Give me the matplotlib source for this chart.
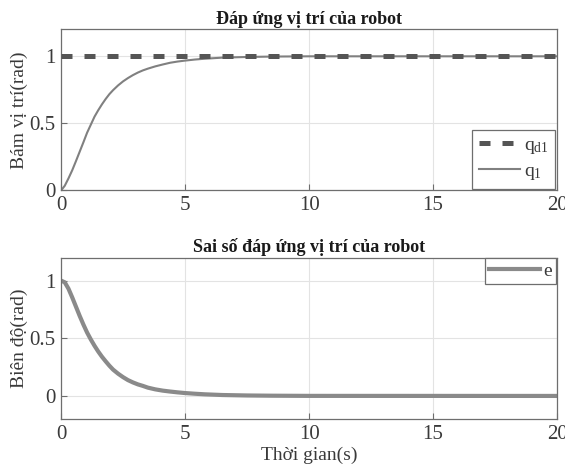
import numpy as np
import matplotlib
matplotlib.use("Agg")
import matplotlib.pyplot as plt

# Thoi gian (s) va gia tri doc tu hinh
t = [0, 0.15, 0.3, 0.45, 0.6, 0.75, 0.9, 1.05, 1.2, 1.35, 1.5, 1.65, 1.8, 1.95, 2.1, 2.3, 2.5,
     2.7, 2.9, 3.1, 3.3, 3.5, 3.8, 4.1, 4.4, 4.7, 5.0, 5.4, 5.8, 6.5, 7.5, 8.5, 10.0, 20.0]
q1 = [0, 0.035, 0.09, 0.15, 0.218, 0.288, 0.358, 0.43, 0.49, 0.55, 0.598, 0.642, 0.682, 0.718,
      0.748, 0.783, 0.813, 0.838, 0.86, 0.879, 0.895, 0.908, 0.925, 0.939, 0.952, 0.961, 0.968,
      0.976, 0.982, 0.99, 0.995, 0.998, 1.0, 1.0]
qd1 = [1.0] * len(t)
e = [1.0, 0.985, 0.93, 0.855, 0.775, 0.695, 0.62, 0.55, 0.49, 0.435, 0.385, 0.34, 0.30, 0.262,
     0.228, 0.193, 0.163, 0.137, 0.117, 0.1, 0.087, 0.072, 0.057, 0.046, 0.038, 0.031, 0.025,
     0.019, 0.014, 0.008, 0.004, 0.002, 0.0005, 0.0]

plt.rcParams["font.family"] = ["Liberation Serif", "DejaVu Serif"]
plt.rcParams["mathtext.fontset"] = "custom"
plt.rcParams["mathtext.rm"] = "Liberation Serif"
plt.rcParams["mathtext.it"] = "Liberation Serif"

fig = plt.figure(figsize=(5.65, 4.70), dpi=100)
ax1 = fig.add_axes([0.108, 0.5947, 0.878, 0.3426])
ax2 = fig.add_axes([0.108, 0.1085, 0.878, 0.3436])

txt = "#3a3a3a"
spine = "#6e6e6e"

# --------------- Dap ung vi tri -----------------
ax1.plot(t, qd1, color="#555555", lw=3.6, linestyle=(0, (2.2, 2.4)), label=r"$\mathrm{q_{d1}}$", zorder=3)
ax1.plot(t, q1, color="#808080", lw=1.5, label=r"$\mathrm{q_1}$", zorder=2)
ax1.set_xlim(0, 20)
ax1.set_ylim(0, 1.2)
ax1.set_yticks([0, 0.5, 1])
ax1.set_yticklabels(["0", "0.5", "1"])
ax1.set_title("Đáp ứng vị trí của robot", fontsize=13, fontweight="bold", color="#1a1a1a", pad=4)
ax1.set_ylabel("Bám vị trí(rad)", fontsize=14, color=txt, labelpad=1)
leg1 = ax1.legend(loc="lower right", fontsize=14, frameon=True, fancybox=False, handlelength=2.1,
                  borderaxespad=0.1, borderpad=0.35, handletextpad=0.2, labelspacing=0.3)

# --------------- Sai so -----------------
ax2.plot(t, e, color="#8a8a8a", lw=3.0, label="e")
ax2.set_xlim(0, 20)
ax2.set_ylim(-0.2, 1.2)
ax2.set_yticks([0, 0.5, 1])
ax2.set_yticklabels(["0", "0.5", "1"])
ax2.set_title("Sai số đáp ứng vị trí của robot", fontsize=13, fontweight="bold", color="#1a1a1a", pad=4)
ax2.set_ylabel("Biên độ(rad)", fontsize=14, color=txt, labelpad=1)
ax2.set_xlabel("Thời gian(s)", fontsize=14, color=txt, labelpad=2)
leg2 = ax2.legend(loc="upper right", fontsize=14, frameon=True, fancybox=False, handlelength=2.6,
                  borderaxespad=0.05, borderpad=0.2, handletextpad=0.2)

for ax, leg in ((ax1, leg1), (ax2, leg2)):
    ax.set_xticks([0, 5, 10, 15, 20])
    ax.grid(True, color="#e3e3e3", lw=0.8)
    ax.set_axisbelow(True)
    ax.tick_params(labelsize=15, colors=spine, labelcolor=txt, direction="in", length=4, pad=4)
    for s in ax.spines.values():
        s.set_color(spine)
        s.set_linewidth(0.9)
    leg.get_frame().set_edgecolor(spine)
    leg.get_frame().set_linewidth(0.9)
    leg.get_frame().set_alpha(1)
    for tx in leg.get_texts():
        tx.set_color(txt)

fig.savefig("out.png", dpi=100)
